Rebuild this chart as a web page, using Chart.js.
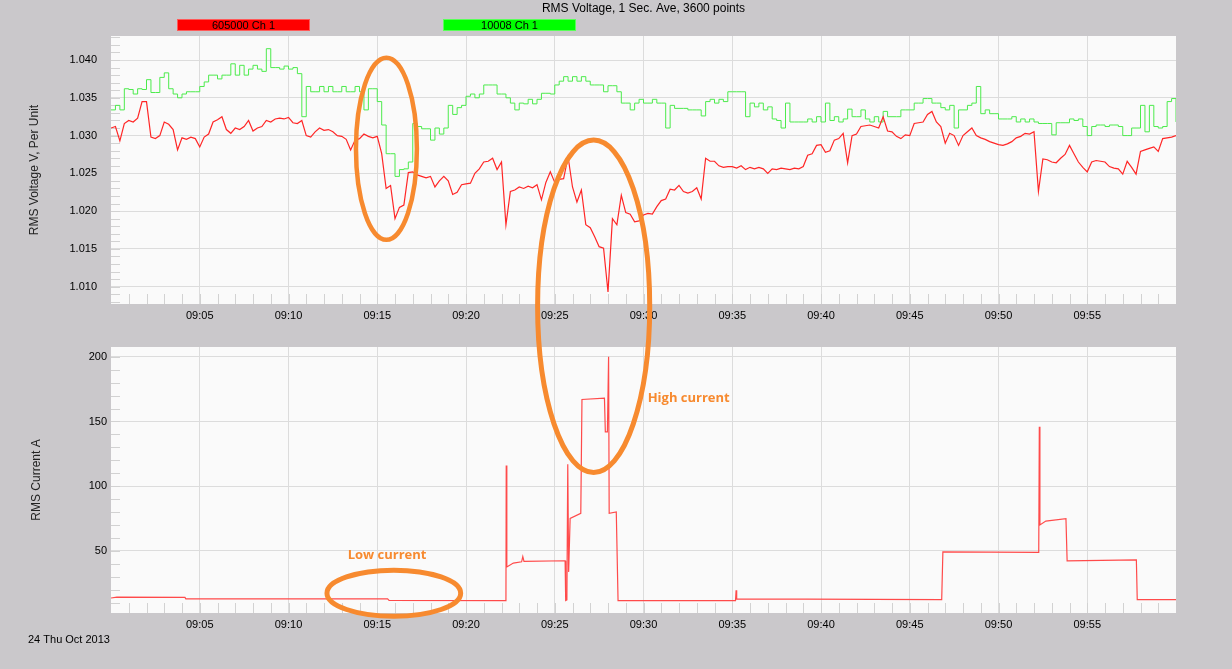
<!DOCTYPE html>
<html>
<head>
<meta charset="utf-8">
<script src="https://cdn.jsdelivr.net/npm/chart.js@4.4.1/dist/chart.umd.min.js"></script>
<style>
  html, body { margin: 0; padding: 0; background: #cac8cb; width: 1232px; height: 669px; overflow: hidden; }
  canvas { position: absolute; left: 0; }
  #voltage { top: 0; }
  #current { top: 330px; }
  #notes { top: 0; pointer-events: none; }
</style>
</head>
<body>
<canvas id="voltage" width="1232" height="330"></canvas>
<canvas id="current" width="1232" height="339"></canvas>
<canvas id="notes" width="1232" height="669"></canvas>
<script>
// seconds after 09:00, one voltage sample every 15 s
const VOLT_STEP = 15;

// 605000 Ch 1 (red), one row per minute
const RED_605000 = [
  1.0310, 1.0312, 1.0293, 1.0316,
  1.0320, 1.0318, 1.0323, 1.0345,
  1.0345, 1.0298, 1.0296, 1.0300,
  1.0318, 1.0315, 1.0308, 1.0281,
  1.0297, 1.0295, 1.0298, 1.0296,
  1.0285, 1.0298, 1.0302, 1.0318,
  1.0321, 1.0325, 1.0308, 1.0303,
  1.0310, 1.0308, 1.0312, 1.0320,
  1.0306, 1.0310, 1.0312, 1.0320,
  1.0318, 1.0322, 1.0323, 1.0322,
  1.0324, 1.0317, 1.0316, 1.0320,
  1.0300, 1.0298, 1.0305, 1.0310,
  1.0307, 1.0308, 1.0305, 1.0300,
  1.0299, 1.0295, 1.0281, 1.0294,
  1.0296, 1.0302, 1.0299, 1.0297,
  1.0299, 1.0276, 1.0230, 1.0234,
  1.0190, 1.0205, 1.0208, 1.0251,
  1.0252, 1.0248, 1.0246, 1.0244,
  1.0246, 1.0232, 1.0240, 1.0246,
  1.0240, 1.0222, 1.0225, 1.0235,
  1.0236, 1.0237, 1.0250, 1.0256,
  1.0265, 1.0266, 1.0270, 1.0255,
  1.0265, 1.0182, 1.0226, 1.0228,
  1.0232, 1.0230, 1.0233, 1.0231,
  1.0235, 1.0215, 1.0238, 1.0252,
  1.0238, 1.0242, 1.0243, 1.0272,
  1.0232, 1.0212, 1.0228, 1.0182,
  1.0178, 1.0166, 1.0153, 1.0151,
  1.0093, 1.0190, 1.0182, 1.0221,
  1.0198, 1.0196, 1.0186, 1.0187,
  1.0195, 1.0197, 1.0196, 1.0206,
  1.0214, 1.0216, 1.0229, 1.0228,
  1.0234, 1.0226, 1.0224, 1.0226,
  1.0231, 1.0216, 1.0270, 1.0266,
  1.0266, 1.0260, 1.0258, 1.0259,
  1.0259, 1.0257, 1.0260, 1.0255,
  1.0258, 1.0256, 1.0258, 1.0256,
  1.0250, 1.0256, 1.0255, 1.0257,
  1.0256, 1.0255, 1.0257, 1.0256,
  1.0259, 1.0274, 1.0276, 1.0287,
  1.0288, 1.0278, 1.0280, 1.0294,
  1.0296, 1.0303, 1.0264, 1.0300,
  1.0302, 1.0312, 1.0313, 1.0314,
  1.0312, 1.0310, 1.0325, 1.0306,
  1.0305, 1.0299, 1.0296, 1.0301,
  1.0300, 1.0316, 1.0317, 1.0318,
  1.0328, 1.0332, 1.0318, 1.0312,
  1.0290, 1.0303, 1.0300, 1.0287,
  1.0300, 1.0305, 1.0310, 1.0300,
  1.0297, 1.0295, 1.0292, 1.0290,
  1.0288, 1.0287, 1.0289, 1.0292,
  1.0297, 1.0299, 1.0303, 1.0302,
  1.0305, 1.0226, 1.0269, 1.0268,
  1.0265, 1.0264, 1.0270, 1.0275,
  1.0287, 1.0276, 1.0265, 1.0258,
  1.0252, 1.0265, 1.0267, 1.0266,
  1.0265, 1.0259, 1.0257, 1.0256,
  1.0249, 1.0266, 1.0258, 1.0249,
  1.0279, 1.0281, 1.0283, 1.0285,
  1.0279, 1.0296, 1.0297, 1.0298,
  1.0300
];

// 10008 Ch 1 (green)
const GREEN_10008 = [
  1.0334, 1.0340, 1.0334, 1.0362,
  1.0361, 1.0355, 1.0362, 1.0361,
  1.0374, 1.0357, 1.0357, 1.0377,
  1.0383, 1.0362, 1.0355, 1.0350,
  1.0355, 1.0358, 1.0358, 1.0358,
  1.0365, 1.0371, 1.0380, 1.0380,
  1.0375, 1.0380, 1.0380, 1.0395,
  1.0380, 1.0393, 1.0380, 1.0388,
  1.0393, 1.0388, 1.0385, 1.0415,
  1.0390, 1.0390, 1.0388, 1.0392,
  1.0388, 1.0390, 1.0382, 1.0325,
  1.0365, 1.0358, 1.0358, 1.0365,
  1.0358, 1.0365, 1.0358, 1.0358,
  1.0365, 1.0358, 1.0358, 1.0365,
  1.0358, 1.0334, 1.0362, 1.0362,
  1.0345, 1.0314, 1.0276, 1.0276,
  1.0246, 1.0255, 1.0256, 1.0265,
  1.0316, 1.0312, 1.0309, 1.0309,
  1.0294, 1.0310, 1.0302, 1.0310,
  1.0340, 1.0328, 1.0337, 1.0340,
  1.0352, 1.0355, 1.0350, 1.0355,
  1.0367, 1.0367, 1.0367, 1.0355,
  1.0355, 1.0350, 1.0343, 1.0334,
  1.0343, 1.0342, 1.0348, 1.0342,
  1.0348, 1.0356, 1.0356, 1.0355,
  1.0367, 1.0372, 1.0378, 1.0372,
  1.0378, 1.0372, 1.0378, 1.0372,
  1.0367, 1.0367, 1.0367, 1.0358,
  1.0366, 1.0366, 1.0358, 1.0343,
  1.0343, 1.0334, 1.0343, 1.0348,
  1.0343, 1.0343, 1.0348, 1.0343,
  1.0343, 1.0310, 1.0340, 1.0336,
  1.0336, 1.0336, 1.0334, 1.0334,
  1.0334, 1.0326, 1.0345, 1.0348,
  1.0343, 1.0348, 1.0345, 1.0358,
  1.0358, 1.0358, 1.0358, 1.0325,
  1.0343, 1.0338, 1.0343, 1.0334,
  1.0338, 1.0322, 1.0320, 1.0310,
  1.0343, 1.0318, 1.0318, 1.0318,
  1.0318, 1.0322, 1.0318, 1.0325,
  1.0318, 1.0343, 1.0320, 1.0325,
  1.0318, 1.0322, 1.0335, 1.0325,
  1.0325, 1.0334, 1.0322, 1.0318,
  1.0325, 1.0318, 1.0332, 1.0325,
  1.0325, 1.0325, 1.0334, 1.0334,
  1.0334, 1.0343, 1.0343, 1.0349,
  1.0349, 1.0343, 1.0343, 1.0337,
  1.0334, 1.0340, 1.0310, 1.0334,
  1.0334, 1.0340, 1.0343, 1.0365,
  1.0329, 1.0334, 1.0329, 1.0329,
  1.0322, 1.0322, 1.0322, 1.0325,
  1.0318, 1.0322, 1.0318, 1.0322,
  1.0318, 1.0316, 1.0316, 1.0316,
  1.0301, 1.0317, 1.0317, 1.0317,
  1.0322, 1.0320, 1.0322, 1.0312,
  1.0300, 1.0312, 1.0314, 1.0314,
  1.0312, 1.0314, 1.0314, 1.0312,
  1.0300, 1.0300, 1.0310, 1.0310,
  1.0340, 1.0305, 1.0340, 1.0312,
  1.0310, 1.0312, 1.0345, 1.0349,
  1.0318
];

// RMS current (A), sampled where the trace changes
const CURRENT_T = [
  0, 20, 250, 253, 935, 940, 1335, 1336, 1338, 1360, 1388, 1392, 1396, 1535,
  1537, 1541, 1544, 1547, 1552, 1588, 1592, 1668, 1671, 1678, 1682, 1684,
  1708, 1714, 2111, 2113, 2115, 2808, 2812, 3136, 3138, 3140, 3160, 3228,
  3232, 3466, 3469, 3600
];
const CURRENT_A = [
  13.5, 14.2, 14.0, 12.8, 12.8, 11.7, 11.5, 116, 37.5, 40.5, 41.5, 45.5, 41.8, 42.3,
  11.5, 12.0, 117, 33.7, 75, 79, 167, 168, 142, 142, 200, 79,
  80, 11.5, 11.5, 19.5, 12.8, 12.3, 49.2, 48.8, 146, 70, 73, 74.8,
  42.2, 43, 12.3, 12.3
];

const TIME_TICKS = [300, 600, 900, 1200, 1500, 1800, 2100, 2400, 2700, 3000, 3300];
const VOLT_TICKS = [1.010, 1.015, 1.020, 1.025, 1.030, 1.035, 1.040];
const CURRENT_TICKS = [50, 100, 150, 200];

const SERIES_NAMES = ['605000 Ch 1', '10008 Ch 1'];
const LEGEND_COLORS = ['#ff0000', '#00ff00'];
const TITLE = 'RMS Voltage, 1 Sec. Ave, 3600 points';
const DATE_TEXT = '24 Thu Oct 2013';

const FONT = "'Liberation Sans', Arial, sans-serif";
const PLOT_BG = '#fafafa';
const GRID = '#dcdcdc';
const MINOR = '#d2d2d2';
const NOTE = '#f78a2f';

function clock(sec) {
  const m = Math.round(sec / 60);
  return '09:' + String(m).padStart(2, '0');
}

// plot background, minor tick marks and the header texts
const panel = {
  id: 'panel',
  beforeDraw(chart) {
    const { ctx, chartArea: a } = chart;
    ctx.save();
    ctx.fillStyle = PLOT_BG;
    ctx.fillRect(a.left, a.top, a.right - a.left, a.bottom - a.top);
    ctx.restore();
  },
  beforeDatasetsDraw(chart, args, opts) {
    const { ctx, chartArea: a, scales: { x, y } } = chart;
    ctx.save();
    ctx.strokeStyle = MINOR;
    ctx.lineWidth = 1;
    ctx.beginPath();
    for (let t = 60; t < 3600; t += 60) {
      const px = Math.round(x.getPixelForValue(t)) + 0.5;
      ctx.moveTo(px, a.bottom);
      ctx.lineTo(px, a.bottom - 10);
    }
    const k0 = Math.ceil(y.min / opts.minorStep), k1 = Math.floor(y.max / opts.minorStep);
    for (let k = k0; k <= k1; k++) {
      const py = Math.round(y.getPixelForValue(k * opts.minorStep)) + 0.5;
      ctx.moveTo(a.left, py);
      ctx.lineTo(a.left + 9, py);
    }
    ctx.stroke();
    ctx.restore();
  },
  afterDraw(chart, args, opts) {
    const { ctx, chartArea: a } = chart;
    ctx.save();
    ctx.fillStyle = '#000';
    ctx.textBaseline = 'middle';
    if (opts.header) {
      ctx.font = '12px ' + FONT;
      ctx.textAlign = 'center';
      ctx.fillText(TITLE, (a.left + a.right) / 2, 9);
      const boxX = [177, 443];
      chart.data.datasets.forEach((ds, i) => {
        ctx.fillStyle = LEGEND_COLORS[i];
        ctx.fillRect(boxX[i], 19, 133, 12);
        ctx.strokeStyle = 'rgba(255,255,255,0.35)';
        ctx.strokeRect(boxX[i] + 0.5, 19.5, 132, 11);
        ctx.fillStyle = '#000';
        ctx.font = '11px ' + FONT;
        ctx.fillText(ds.label, boxX[i] + 66.5, 25.5);
      });
    }
    if (opts.footer) {
      ctx.font = '11px ' + FONT;
      ctx.textAlign = 'left';
      ctx.fillText(DATE_TEXT, 28, 310);
    }
    ctx.restore();
  }
};

function timeAxis(height) {
  return {
    type: 'linear', min: 0, max: 3600,
    afterBuildTicks: s => { s.ticks = TIME_TICKS.map(v => ({ value: v })); },
    afterFit: s => { s.height = height; },
    grid: { color: GRID, drawTicks: false },
    border: { display: false },
    ticks: { callback: v => clock(v), color: '#000', font: { family: FONT, size: 11 }, padding: 5, maxRotation: 0, autoSkip: false }
  };
}

const voltageChart = new Chart(document.getElementById('voltage'), {
  type: 'line',
  data: {
    datasets: [
      { label: SERIES_NAMES[0], data: RED_605000.map((v, i) => ({ x: i * VOLT_STEP, y: v })), borderColor: '#ff2626', borderWidth: 1.2 },
      { label: SERIES_NAMES[1], data: GREEN_10008.map((v, i) => ({ x: i * VOLT_STEP, y: v })), borderColor: '#4ceb4c', borderWidth: 1, stepped: true }
    ]
  },
  options: {
    responsive: false,
    animation: false,
    parsing: false,
    elements: { point: { radius: 0 }, line: { tension: 0 } },
    layout: { padding: { top: 36, right: 56, left: 0, bottom: 0 } },
    plugins: { legend: { display: false }, tooltip: { enabled: false }, panel: { minorStep: 0.001, header: true } },
    scales: {
      x: timeAxis(26),
      y: {
        min: 1.00771, max: 1.04318,
        afterBuildTicks: s => { s.ticks = VOLT_TICKS.map(v => ({ value: v })); },
        afterFit: s => { s.width = 111; },
        grid: { color: GRID, drawTicks: false },
        border: { display: false },
        ticks: { callback: v => v.toFixed(3), color: '#000', font: { family: FONT, size: 11 }, padding: 14 },
        title: { display: true, text: 'RMS Voltage V, Per Unit', color: '#222', font: { family: FONT, size: 12 }, padding: { top: 27, bottom: 0 } }
      }
    }
  },
  plugins: [panel]
});

const currentChart = new Chart(document.getElementById('current'), {
  type: 'line',
  data: {
    datasets: [
      { label: SERIES_NAMES[0], data: CURRENT_T.map((t, i) => ({ x: t, y: CURRENT_A[i] })), borderColor: '#ff4a4a', borderWidth: 1.2 }
    ]
  },
  options: {
    responsive: false,
    animation: false,
    parsing: false,
    elements: { point: { radius: 0 }, line: { tension: 0 } },
    layout: { padding: { top: 17, right: 56, left: 0, bottom: 0 } },
    plugins: { legend: { display: false }, tooltip: { enabled: false }, panel: { minorStep: 10, footer: true } },
    scales: {
      x: timeAxis(56),
      y: {
        min: 1.9, max: 207.6,
        afterBuildTicks: s => { s.ticks = CURRENT_TICKS.map(v => ({ value: v })); },
        afterFit: s => { s.width = 111; },
        grid: { color: GRID, drawTicks: false },
        border: { display: false },
        ticks: { callback: v => String(v), color: '#000', font: { family: FONT, size: 11 }, padding: 4 },
        title: { display: true, text: 'RMS Current A', color: '#222', font: { family: FONT, size: 12 }, padding: { top: 29, bottom: 0 } }
      }
    }
  },
  plugins: [panel]
});

// hand-drawn style notes laid over both panels, anchored in data units
const charts = { v: { chart: voltageChart, top: 0 }, c: { chart: currentChart, top: 330 } };
const RINGS = [
  { t0: 828, t1: 1034, top: ['v', 1.0403], bottom: ['v', 1.0162], width: 4.5 },
  { t0: 1442, t1: 1821, top: ['v', 1.0294], bottom: ['c', 110.5], width: 5 },
  { t0: 730, t1: 1182, top: ['c', 35], bottom: ['c', -0.6], width: 5 }
];
const NOTES = [
  { text: 'Low current', t: 800, at: ['c', 46.6] },
  { text: 'High current', t: 1814, at: ['c', 168.2] }
];

function pageY([key, value]) {
  const c = charts[key];
  return c.top + c.chart.scales.y.getPixelForValue(value);
}

const notes = document.getElementById('notes').getContext('2d');
const xs = voltageChart.scales.x;
notes.strokeStyle = NOTE;
RINGS.forEach(r => {
  const x0 = xs.getPixelForValue(r.t0), x1 = xs.getPixelForValue(r.t1);
  const y0 = pageY(r.top), y1 = pageY(r.bottom);
  notes.lineWidth = r.width;
  notes.beginPath();
  notes.ellipse((x0 + x1) / 2, (y0 + y1) / 2, (x1 - x0) / 2, (y1 - y0) / 2, 0, 0, Math.PI * 2);
  notes.stroke();
});
notes.fillStyle = NOTE;
notes.font = "bold 13px 'Open Sans', sans-serif";
notes.textBaseline = 'middle';
NOTES.forEach(n => {
  notes.fillText(n.text, xs.getPixelForValue(n.t), pageY(n.at));
});
</script>
</body>
</html>
